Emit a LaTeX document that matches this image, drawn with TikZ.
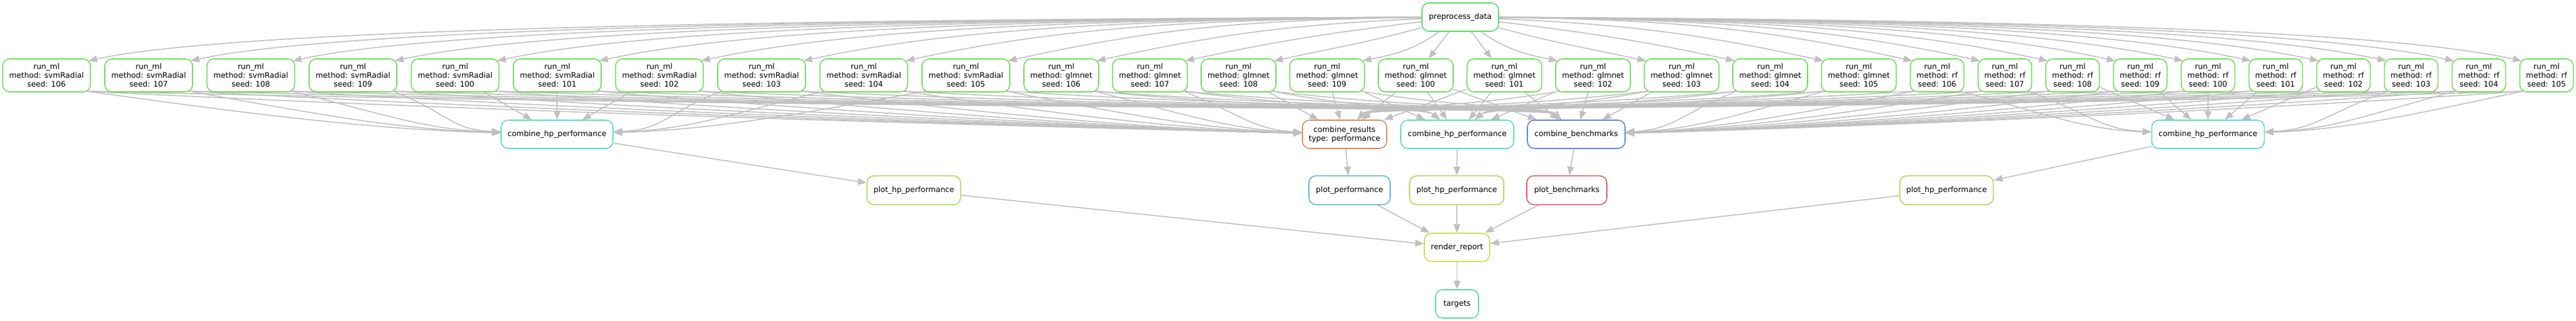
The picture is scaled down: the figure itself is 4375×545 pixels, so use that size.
\documentclass[tikz,border=0pt]{standalone}
\usepackage{fontspec}
\setmainfont{DejaVu Sans}
\usetikzlibrary{arrows.meta}
\definecolor{edgec}{RGB}{192,192,192}
\definecolor{prec}{RGB}{87,217,100}
\definecolor{runc}{RGB}{110,217,87}
\definecolor{cresc}{RGB}{217,136,87}
\definecolor{chpc}{RGB}{87,217,202}
\definecolor{cbenc}{RGB}{87,130,217}
\definecolor{pperfc}{RGB}{87,178,217}
\definecolor{phpc}{RGB}{165,217,87}
\definecolor{pbenc}{RGB}{217,87,87}
\definecolor{rendc}{RGB}{208,217,87}
\definecolor{targc}{RGB}{87,217,152}
\pgfdeclarelayer{bg}
\pgfdeclarelayer{edges}
\pgfsetlayers{bg,edges,main}
\newcommand\pedge[3]{%
 \pgfmathsetmacro\pd{#2-2480}%
 \pgfmathsetmacro\pad{abs(\pd)}%
 \ifdim\pad pt<100pt
   \draw[conn] (pre) -- (#1);
 \else
   \pgfmathsetmacro\psg{\pd>0 ? 1 : -1}%
   \pgfmathsetmacro\pEx{#2-\psg*(#3/2-4)}%
   \pgfmathsetmacro\pD{abs(2480-\pEx)}%
   \pgfmathsetmacro\pax{2480+\psg*0.5*\pD}%
   \pgfmathsetmacro\pay{29+max(4,75-\pD/10)}%
   \pgfmathsetmacro\pL{min(0.3*\pD,250)}%
   \pgfmathsetmacro\pbx{\pEx-\psg*\pL}%
   \pgfmathsetmacro\pby{104-0.22*\pL}%
   \ifdim\pd pt<0pt
     \draw[conn] (pre) .. controls (\pax,\pay) and (\pbx,\pby) .. ([xshift=-3pt,yshift=-3pt]#1.north east);
   \else
     \draw[conn] (pre) .. controls (\pax,\pay) and (\pbx,\pby) .. ([xshift=3pt,yshift=-3pt]#1.north west);
   \fi
 \fi}
\newcommand\redge[7]{%
 \pgfmathsetmacro\rdx{#5-#2}%
 \pgfmathsetmacro\radx{abs(\rdx)}%
 \ifdim\radx pt<300pt
   \draw[conn] (#1) -- (#4);
 \else
   \pgfmathsetmacro\rsg{\rdx>0 ? 1 : -1}%
   \pgfmathsetmacro\rsx{\rsg*(#3/2-6)}%
   \pgfmathsetmacro\rsxpt{\rsx*0.75}%
   \pgfmathsetmacro\rSx{#2+\rsx}%
   \pgfmathsetmacro\rdxs{#5-\rSx}%
   \if#7s
     \pgfmathsetmacro\rax{\rSx+0.35*\rdxs}\def\ray{194}%
     \pgfmathsetmacro\rbx{#5-\rsg*(#6/2+min(0.25*\radx,250))}\def\rby{220}%
   \else
     \pgfmathsetmacro\rax{\rSx+0.5*\rdxs}\def\ray{186}%
     \pgfmathsetmacro\rbx{#5-\rsg*0.3*#6}\def\rby{180}%
   \fi
   \draw[conn] ([xshift=\rsxpt pt,yshift=1.5pt]#1.south) .. controls (\rax,\ray) and (\rbx,\rby) .. (#4);
 \fi}
\begin{document}
\begin{tikzpicture}[x=0.75pt,y=-0.75pt,
  box/.style={draw, rounded corners=9pt, line width=1.2pt, fill=white, align=center,
    inner sep=0pt, font=\fontsize{9.7pt}{11.25pt}\selectfont},
  sz/.style 2 args={minimum width=#1*0.75pt, minimum height=#2*0.75pt},
  conn/.style={draw=edgec, line width=1.25pt, -{Triangle[length=11pt,width=8.5pt]}},
]
\begin{pgfonlayer}{bg}
\fill[white] (0,0) rectangle (4375,545);
\end{pgfonlayer}
\useasboundingbox (0,0) rectangle (4375,545);
% top
\node[box, draw=prec, sz={130}{48}] (pre) at (2480,29) {preprocess\_data};
% middle row
\node[box, draw=chpc, sz={190}{48}] (chpL) at (946,228) {combine\_hp\_performance};
\node[box, draw=cresc, sz={143}{48}] (cres) at (2283.5,228) {combine\_results\\type: performance};
\node[box, draw=chpc, sz={192}{48}] (chpM) at (2475,228) {combine\_hp\_performance};
\node[box, draw=cbenc, sz={166}{48}] (cbench) at (2677,228) {combine\_benchmarks};
\node[box, draw=chpc, sz={191}{48}] (chpR) at (3750,228) {combine\_hp\_performance};
% plot row
\node[box, draw=phpc, sz={159}{49}] (phpL) at (1552,323) {plot\_hp\_performance};
\node[box, draw=pperfc, sz={138}{49}] (pperf) at (2292,323) {plot\_performance};
\node[box, draw=phpc, sz={160}{49}] (phpM) at (2474,323) {plot\_hp\_performance};
\node[box, draw=pbenc, sz={136}{49}] (pbench) at (2661,323) {plot\_benchmarks};
\node[box, draw=phpc, sz={159}{49}] (phpR) at (3306,323) {plot\_hp\_performance};
% bottom
\node[box, draw=rendc, sz={111}{48}] (render) at (2474.5,420) {render\_report};
\node[box, draw=targc, sz={73}{48}] (targets) at (2474.5,516) {targets};
% run_ml nodes and their edges
\foreach \m/\xs/\sp/\w/\lab/\hp/\hx/\hw/\hm in {svm/79/173.5/149/svmRadial/chpL/946/190/s,
    glm/1802.5/150.5/127/glmnet/chpM/2475/192/t,
    rf/3290/115/91/rf/chpR/3750/191/s}{
  \foreach \s [count=\i from 0] in {106,107,108,109,100,101,102,103,104,105}{
    \pgfmathsetmacro\cx{\xs+\sp*\i}
    \node[box, draw=runc, sz={\w}{56}] (\m\s) at (\cx,128) {run\_ml\\method: \lab\\seed: \s};
    \ifdim\cx pt<2283pt \def\mr{s}\else\def\mr{t}\fi
    \ifdim\cx pt<2677pt \def\mb{t}\else\def\mb{s}\fi
    \begin{pgfonlayer}{edges}
      \pedge{\m\s}{\cx}{\w}
      \redge{\m\s}{\cx}{\w}{cres}{2283.5}{143}{\mr}
      \redge{\m\s}{\cx}{\w}{\hp}{\hx}{\hw}{\hm}
      \redge{\m\s}{\cx}{\w}{cbench}{2677}{166}{\mb}
    \end{pgfonlayer}
  }
}
\begin{pgfonlayer}{edges}
\draw[conn] (cres) -- (pperf);
\draw[conn] (chpL) -- (phpL);
\draw[conn] (chpM) -- (phpM);
\draw[conn] (chpR) -- (phpR);
\draw[conn] (cbench) -- (pbench);
\draw[conn] (phpL) -- (render);
\draw[conn] (pperf) -- (render);
\draw[conn] (phpM) -- (render);
\draw[conn] (pbench) -- (render);
\draw[conn] (phpR) -- (render);
\draw[conn] (render) -- (targets);
\end{pgfonlayer}
\end{tikzpicture}
\end{document}
